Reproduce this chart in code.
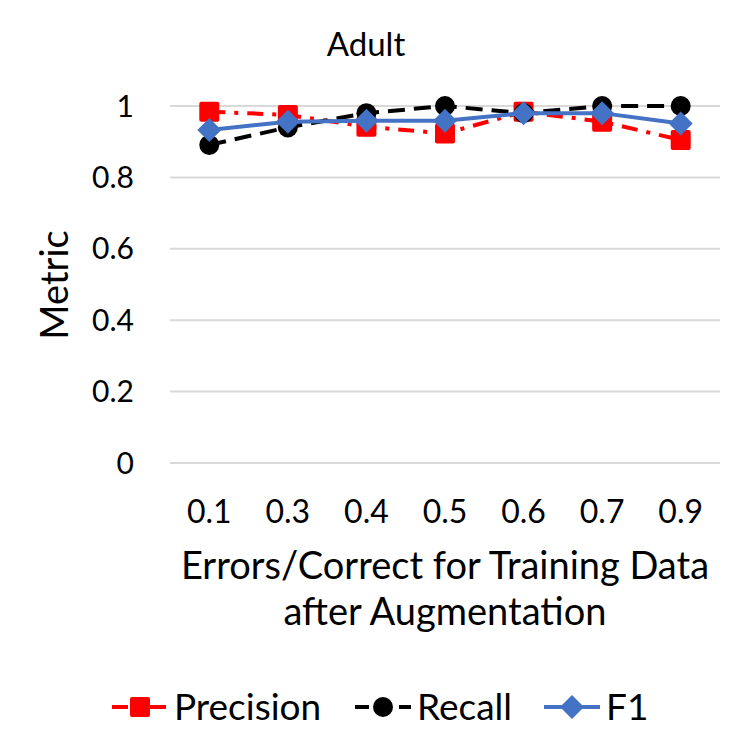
<!DOCTYPE html>
<html>
<head>
<meta charset="utf-8">
<script src="https://cdn.jsdelivr.net/npm/d3@7"></script>
<style>
  body { margin: 0; background: #fff; }
  text { font-family: Lato, 'Open Sans', sans-serif; fill: #000; }
</style>
</head>
<body>
<div id="chart"></div>
<script>
const categories = ['0.1', '0.3', '0.4', '0.5', '0.6', '0.7', '0.9'];
const precision = [0.984, 0.975, 0.942, 0.923, 0.984, 0.956, 0.905];
const recall = [0.891, 0.94, 0.98, 1.0, 0.98, 1.0, 1.0];
const f1 = [0.933, 0.956, 0.959, 0.959, 0.98, 0.98, 0.951];
const yTicks = [0, 0.2, 0.4, 0.6, 0.8, 1];

const width = 750;
const height = 755;
const margin = { top: 106, right: 30, bottom: 292, left: 170 };

const svg = d3
  .select('#chart')
  .append('svg')
  .attr('width', width)
  .attr('height', height);

const x = d3
  .scaleBand()
  .domain(categories)
  .range([margin.left, width - margin.right]);

const y = d3
  .scaleLinear()
  .domain([0, 1])
  .range([height - margin.bottom, margin.top]);

// gridlines
svg
  .append('g')
  .selectAll('line')
  .data(yTicks)
  .enter()
  .append('line')
  .attr('x1', margin.left)
  .attr('x2', width - margin.right)
  .attr('y1', (d) => y(d))
  .attr('y2', (d) => y(d))
  .attr('stroke', '#d9d9d9')
  .attr('stroke-width', 2);

// y tick labels
svg
  .append('g')
  .selectAll('text')
  .data(yTicks)
  .enter()
  .append('text')
  .attr('x', 134)
  .attr('y', (d) => y(d))
  .attr('dy', '0.35em')
  .attr('text-anchor', 'end')
  .style('font-size', '30px')
  .text((d) => d);

// x tick labels
svg
  .append('g')
  .selectAll('text')
  .data(categories)
  .enter()
  .append('text')
  .attr('x', (d) => x(d) + x.bandwidth() / 2)
  .attr('y', 523)
  .attr('text-anchor', 'middle')
  .style('font-size', '32px')
  .text((d) => d);

svg
  .append('text')
  .attr('x', 366)
  .attr('y', 56)
  .attr('text-anchor', 'middle')
  .style('font-size', '33px')
  .text('Adult');

svg
  .append('text')
  .attr('transform', 'translate(68,285) rotate(-90)')
  .attr('text-anchor', 'middle')
  .style('font-size', '38px')
  .text('Metric');

svg
  .append('text')
  .attr('x', 445)
  .attr('y', 579)
  .attr('text-anchor', 'middle')
  .style('font-size', '38px')
  .text('Errors/Correct for Training Data');

svg
  .append('text')
  .attr('x', 445)
  .attr('y', 625)
  .attr('text-anchor', 'middle')
  .style('font-size', '38px')
  .text('after Augmentation');

const series = [
  { name: 'Precision', values: precision, color: '#ff0000', dash: '16,9,4,9', marker: 'square' },
  { name: 'Recall', values: recall, color: '#000000', dash: '17,9', marker: 'circle' },
  { name: 'F1', values: f1, color: '#4472c4', dash: null, marker: 'diamond' }
];

const line = d3
  .line()
  .x((d, i) => x(categories[i]) + x.bandwidth() / 2)
  .y((d) => y(d));

function drawMarker(g, type, color, cx, cy) {
  if (type === 'square') {
    g.append('rect')
      .attr('x', cx - 10)
      .attr('y', cy - 10)
      .attr('width', 20)
      .attr('height', 20)
      .attr('rx', 2)
      .attr('fill', color);
  } else if (type === 'circle') {
    g.append('circle').attr('cx', cx).attr('cy', cy).attr('r', 10).attr('fill', color);
  } else {
    g.append('path')
      .attr('d', `M${cx},${cy - 12}L${cx + 12},${cy}L${cx},${cy + 12}L${cx - 12},${cy}Z`)
      .attr('fill', color);
  }
}

series.forEach((s) => {
  const g = svg.append('g');
  g.append('path')
    .datum(s.values)
    .attr('d', line)
    .attr('fill', 'none')
    .attr('stroke', s.color)
    .attr('stroke-width', 4)
    .attr('stroke-dasharray', s.dash);
  s.values.forEach((v, i) => {
    drawMarker(g, s.marker, s.color, x(categories[i]) + x.bandwidth() / 2, y(v));
  });
});

// legend
const legendY = 707;
const legendX = [112, 355, 544];
const legendDash = ['16,9,4,9', '14,30,14', null];
series.forEach((s, i) => {
  const g = svg.append('g');
  g.append('line')
    .attr('x1', legendX[i])
    .attr('x2', legendX[i] + 56)
    .attr('y1', legendY)
    .attr('y2', legendY)
    .attr('stroke', s.color)
    .attr('stroke-width', 4)
    .attr('stroke-dasharray', legendDash[i]);
  drawMarker(g, s.marker, s.color, legendX[i] + 28, legendY);
  g.append('text')
    .attr('x', legendX[i] + 62)
    .attr('y', legendY)
    .attr('dy', '0.35em')
    .style('font-size', '37px')
    .text(s.name);
});
</script>
</body>
</html>
